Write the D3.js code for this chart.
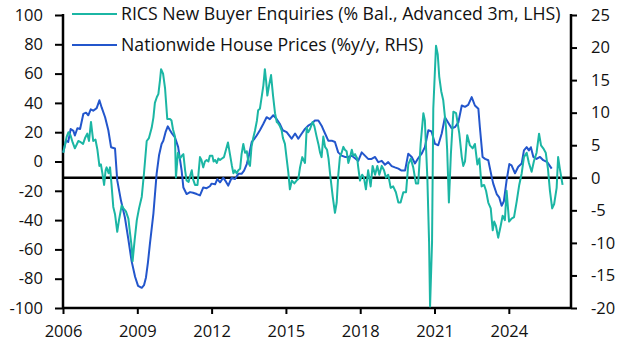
<!DOCTYPE html>
<html>
<head>
<meta charset="utf-8">
<script src="https://cdn.jsdelivr.net/npm/d3@7"></script>
<style>
  body { margin: 0; background: #fff; }
  svg text { font-family: "Open Sans", sans-serif; fill: #111; }
</style>
</head>
<body>
<div id="chart"></div>
<script>
// RICS new buyer enquiries (% balance, advanced 3m) - LHS, [decimal year, value]
var rics = [
  [2006.01, 6], [2006.15, 17], [2006.22, 20], [2006.30, 18], [2006.39, 13], [2006.48, 9],
  [2006.62, 14], [2006.73, 13], [2006.81, 12], [2006.89, 16], [2006.98, 19], [2007.05, 14],
  [2007.13, 27], [2007.22, 14], [2007.31, 15], [2007.39, 8], [2007.47, -3], [2007.53, -2],
  [2007.59, -8], [2007.66, -16], [2007.72, -6], [2007.76, -4], [2007.84, -8], [2007.90, -4],
  [2007.96, -16], [2008.03, -31], [2008.10, -36], [2008.19, -48], [2008.26, -40], [2008.37, -30],
  [2008.44, -32], [2008.54, -34], [2008.64, -39], [2008.70, -48], [2008.77, -58], [2008.81, -68],
  [2008.89, -54], [2008.98, -40], [2009.07, -32], [2009.18, -24], [2009.27, -8], [2009.38, 14],
  [2009.47, 16], [2009.58, 23], [2009.65, 30], [2009.71, 40], [2009.79, 44], [2009.85, 46],
  [2009.92, 56], [2009.96, 63], [2010.04, 60], [2010.12, 50], [2010.21, 29], [2010.32, 29],
  [2010.38, 28], [2010.44, 22], [2010.52, 17], [2010.56, -11], [2010.64, 6], [2010.72, 2],
  [2010.80, 4], [2010.86, 5], [2010.93, -6], [2010.99, -13], [2011.07, -14], [2011.13, -10],
  [2011.20, -6], [2011.25, -12], [2011.33, -16], [2011.43, -16], [2011.53, 3], [2011.59, 1],
  [2011.66, -4], [2011.73, 0], [2011.80, 1], [2011.87, 0], [2011.93, 4], [2012.03, 4],
  [2012.08, 0], [2012.14, 1], [2012.21, -1], [2012.27, 2], [2012.34, 1], [2012.42, 2],
  [2012.50, 3], [2012.58, 8], [2012.66, 13], [2012.74, 5], [2012.82, -3], [2012.88, -8],
  [2012.94, -6], [2013.01, -8], [2013.08, -6], [2013.15, -5], [2013.21, 5], [2013.28, 12],
  [2013.35, 6], [2013.42, 7], [2013.49, -1], [2013.55, -3], [2013.61, 10], [2013.68, 16],
  [2013.75, 21], [2013.83, 28], [2013.88, 35], [2013.95, 36], [2014.02, 44], [2014.09, 52],
  [2014.15, 63], [2014.20, 55], [2014.25, 45], [2014.32, 52], [2014.40, 59], [2014.48, 45],
  [2014.56, 33], [2014.63, 27], [2014.69, 26], [2014.76, 24], [2014.83, 21], [2014.88, 16],
  [2014.96, 12], [2015.03, 2], [2015.10, -8], [2015.16, -19], [2015.24, -13], [2015.34, -15],
  [2015.43, -13], [2015.50, -12], [2015.57, -4], [2015.66, 3], [2015.77, -1], [2015.84, 23],
  [2015.90, 20], [2015.97, 22], [2016.08, 27], [2016.15, 24], [2016.24, 17], [2016.31, 12],
  [2016.38, 6], [2016.44, 3], [2016.51, 17], [2016.58, 10], [2016.66, 8], [2016.72, 2],
  [2016.78, -8], [2016.89, -24], [2016.98, -35], [2017.05, -28], [2017.11, -10], [2017.18, 3],
  [2017.25, 6], [2017.32, 10], [2017.38, 8], [2017.45, 7], [2017.52, -1], [2017.59, 3],
  [2017.66, 8], [2017.72, 4], [2017.79, 5], [2017.88, 2], [2017.92, -4], [2017.99, -13],
  [2018.08, -9], [2018.15, -11], [2018.23, -19], [2018.32, -6], [2018.42, -17], [2018.50, -3],
  [2018.60, -9], [2018.69, -3], [2018.77, -9], [2018.87, -3], [2018.96, -6], [2019.04, -11],
  [2019.13, -9], [2019.23, -18], [2019.33, -17], [2019.44, -21], [2019.54, -28], [2019.63, -28],
  [2019.74, -21], [2019.85, -21], [2019.94, -2], [2020.04, 2], [2020.14, -4], [2020.25, -15],
  [2020.34, -15], [2020.44, 12], [2020.55, 33], [2020.61, 28], [2020.71, -11], [2020.78, -55],
  [2020.82, -99], [2020.90, -55], [2020.95, 36], [2021.06, 79], [2021.13, 73], [2021.19, 58],
  [2021.27, 48], [2021.35, 42], [2021.46, 24], [2021.51, 8], [2021.58, -28], [2021.66, 5],
  [2021.76, 34], [2021.87, 33], [2022.00, 19], [2022.10, 3], [2022.16, -3], [2022.23, 0],
  [2022.32, 18], [2022.43, 11], [2022.54, 9], [2022.63, 12], [2022.73, -2], [2022.81, 2],
  [2022.90, -17], [2023.00, -16], [2023.08, -20], [2023.17, -28], [2023.27, -32], [2023.35, -47],
  [2023.41, -41], [2023.48, -44], [2023.57, -52], [2023.67, -44], [2023.75, -37], [2023.84, -40],
  [2023.91, -20], [2024.01, -41], [2024.11, -39], [2024.21, -38], [2024.32, -27], [2024.42, -16],
  [2024.52, -8], [2024.61, 3], [2024.72, 6], [2024.81, -1], [2024.92, -7], [2025.01, 0],
  [2025.12, 6], [2025.22, 19], [2025.30, 11], [2025.39, 9], [2025.49, 6], [2025.58, -5],
  [2025.66, -20], [2025.75, -32], [2025.83, -29], [2025.93, -18], [2025.99, 3], [2026.06, -5],
  [2026.17, -16]
];

// Nationwide house prices (%y/y) - RHS, [decimal year, value]
var nationwide = [
  [2006.01, 3.9], [2006.12, 5.7], [2006.21, 5.5], [2006.31, 7.5], [2006.42, 7.2], [2006.48, 6.5],
  [2006.58, 7.6], [2006.69, 7.5], [2006.82, 9.8], [2006.93, 10.0], [2007.02, 9.6], [2007.12, 10.5],
  [2007.22, 10.3], [2007.36, 10.7], [2007.47, 11.9], [2007.56, 10.8], [2007.70, 9.3], [2007.83, 7.3],
  [2007.94, 4.7], [2008.10, 4.5], [2008.19, -0.4], [2008.34, -3.5], [2008.50, -6.1], [2008.64, -9.5],
  [2008.77, -12.8], [2008.91, -15.2], [2009.03, -16.6], [2009.18, -16.9], [2009.27, -16.5], [2009.35, -15.3],
  [2009.43, -13.0], [2009.51, -10.1], [2009.65, -5.5], [2009.78, 0.6], [2009.88, 3.5], [2009.98, 5.2],
  [2010.05, 5.7], [2010.14, 7.0], [2010.23, 7.9], [2010.32, 7.3], [2010.40, 6.8], [2010.52, 6.2],
  [2010.65, 4.7], [2010.79, 1.1], [2010.86, -1.5], [2010.99, -2.5], [2011.13, -2.2], [2011.25, -2.3],
  [2011.40, -2.5], [2011.53, -2.7], [2011.66, -1.5], [2011.80, -1.6], [2011.93, -1.3], [2012.00, -0.9],
  [2012.14, -1.0], [2012.23, -0.2], [2012.34, -0.7], [2012.47, 0.0], [2012.58, -0.6], [2012.67, -1.2],
  [2012.81, 0.0], [2012.94, -0.2], [2013.08, 0.6], [2013.21, 0.6], [2013.31, 1.1], [2013.42, 2.1],
  [2013.51, 3.5], [2013.62, 5.5], [2013.71, 5.9], [2013.82, 6.5], [2013.95, 7.3], [2014.09, 8.3],
  [2014.22, 9.3], [2014.35, 9.0], [2014.49, 9.6], [2014.63, 9.0], [2014.75, 8.3], [2014.87, 7.3],
  [2015.03, 7.0], [2015.23, 6.0], [2015.37, 6.8], [2015.50, 6.0], [2015.64, 6.8], [2015.77, 7.5],
  [2015.90, 8.0], [2016.04, 8.3], [2016.17, 8.8], [2016.31, 8.8], [2016.44, 8.0], [2016.58, 6.8],
  [2016.71, 5.7], [2016.85, 5.7], [2016.98, 5.5], [2017.11, 3.9], [2017.25, 3.4], [2017.38, 3.2],
  [2017.52, 3.2], [2017.66, 3.4], [2017.79, 3.0], [2017.92, 2.6], [2018.06, 3.9], [2018.19, 3.4],
  [2018.32, 2.9], [2018.46, 2.9], [2018.60, 3.2], [2018.73, 2.4], [2018.87, 2.6], [2019.00, 2.0],
  [2019.13, 2.4], [2019.27, 1.8], [2019.40, 1.6], [2019.54, 1.4], [2019.67, 1.1], [2019.81, 1.1],
  [2019.94, 3.7], [2020.08, 3.2], [2020.21, 2.2], [2020.34, 3.0], [2020.48, 3.7], [2020.61, 4.7],
  [2020.75, 7.3], [2020.88, 7.1], [2021.02, 5.2], [2021.15, 5.0], [2021.29, 6.8], [2021.42, 9.3],
  [2021.56, 8.4], [2021.69, 7.6], [2021.83, 7.8], [2021.96, 8.5], [2022.10, 11.1], [2022.23, 10.9],
  [2022.36, 11.2], [2022.50, 12.4], [2022.63, 11.1], [2022.77, 10.6], [2022.83, 7.8], [2022.94, 3.2],
  [2023.04, 2.9], [2023.17, 2.7], [2023.31, 0.1], [2023.37, -0.9], [2023.51, -2.5], [2023.61, -3.0],
  [2023.71, -4.3], [2023.80, -3.6], [2023.91, -0.4], [2024.02, 2.1], [2024.11, 1.9], [2024.25, 0.7],
  [2024.38, 1.7], [2024.52, 2.2], [2024.61, 4.2], [2024.72, 4.7], [2024.81, 4.2], [2024.89, 4.7],
  [2024.99, 3.2], [2025.12, 2.9], [2025.26, 3.2], [2025.39, 2.7], [2025.55, 2.4], [2025.73, 1.4]
];

var yearTicks = [2006, 2009, 2012, 2015, 2018, 2021, 2024];
var leftTicks = [-100, -80, -60, -40, -20, 0, 20, 40, 60, 80, 100];
var rightTicks = [-20, -15, -10, -5, 0, 5, 10, 15, 20, 25];
var legendLabels = ["RICS New Buyer Enquiries (% Bal., Advanced 3m, LHS)", "Nationwide House Prices (%y/y, RHS)"];
var colors = ["#1bb6a4", "#2356cc"];

var width = 629, height = 354;
var plotLeft = 63, plotRight = 571, plotTop = 15, plotBottom = 308;

var svg = d3.select("#chart").append("svg").attr("width", width).attr("height", height);

var x = d3.scaleLinear().domain([2006, 2026.51]).range([plotLeft, plotRight]);
var yL = d3.scaleLinear().domain([-100, 100]).range([plotBottom, plotTop]);
var yR = d3.scaleLinear().domain([-20, 25]).range([plotBottom, plotTop]);

var fmt = function (d) { return String(d); };

//axes
var axisL = svg.append("g").attr("transform", "translate(" + plotLeft + ",0)")
    .call(d3.axisLeft(yL).tickValues(leftTicks).tickSize(8).tickPadding(12).tickFormat(fmt));
var axisR = svg.append("g").attr("transform", "translate(" + plotRight + ",0)")
    .call(d3.axisRight(yR).tickValues(rightTicks).tickSize(6).tickPadding(14).tickFormat(fmt));
var axisX = svg.append("g").attr("transform", "translate(0," + plotBottom + ")")
    .call(d3.axisBottom(x).tickValues(yearTicks).tickSize(6).tickPadding(11).tickFormat(fmt));

[axisL, axisR, axisX].forEach(function (g) {
    g.select(".domain").remove();
    g.selectAll("line").attr("stroke", "#000").attr("stroke-width", 2);
    g.selectAll("text").style("font-size", "16.5px").attr("fill", "#111");
});

//axis lines
svg.append("line").attr("x1", plotLeft).attr("x2", plotLeft).attr("y1", plotTop - 1).attr("y2", plotBottom + 1)
    .attr("stroke", "#000").attr("stroke-width", 2.5);
svg.append("line").attr("x1", plotRight).attr("x2", plotRight).attr("y1", plotTop - 1).attr("y2", plotBottom + 1)
    .attr("stroke", "#000").attr("stroke-width", 2.5);
svg.append("line").attr("x1", plotLeft).attr("x2", plotRight).attr("y1", plotBottom).attr("y2", plotBottom)
    .attr("stroke", "#000").attr("stroke-width", 2.5);
svg.append("line").attr("x1", plotLeft).attr("x2", plotRight).attr("y1", yR(0)).attr("y2", yR(0))
    .attr("stroke", "#000").attr("stroke-width", 2.5);

//series
var lineR = d3.line().x(function (d) { return x(d[0]); }).y(function (d) { return yR(d[1]); });
var lineL = d3.line().x(function (d) { return x(d[0]); }).y(function (d) { return yL(d[1]); });

svg.append("path").datum(nationwide).attr("d", lineR)
    .attr("fill", "none").attr("stroke", colors[1]).attr("stroke-width", 2).attr("stroke-linejoin", "round");
svg.append("path").datum(rics).attr("d", lineL)
    .attr("fill", "none").attr("stroke", colors[0]).attr("stroke-width", 2).attr("stroke-linejoin", "round");

//legend
legendLabels.forEach(function (label, i) {
    var ly = 14 + i * 31;
    svg.append("line").attr("x1", 72).attr("x2", 117).attr("y1", ly).attr("y2", ly)
        .attr("stroke", colors[i]).attr("stroke-width", 2);
    svg.append("text").attr("x", 121).attr("y", ly).attr("dy", "0.35em")
        .style("font-size", "17.7px").text(label);
});
</script>
</body>
</html>
